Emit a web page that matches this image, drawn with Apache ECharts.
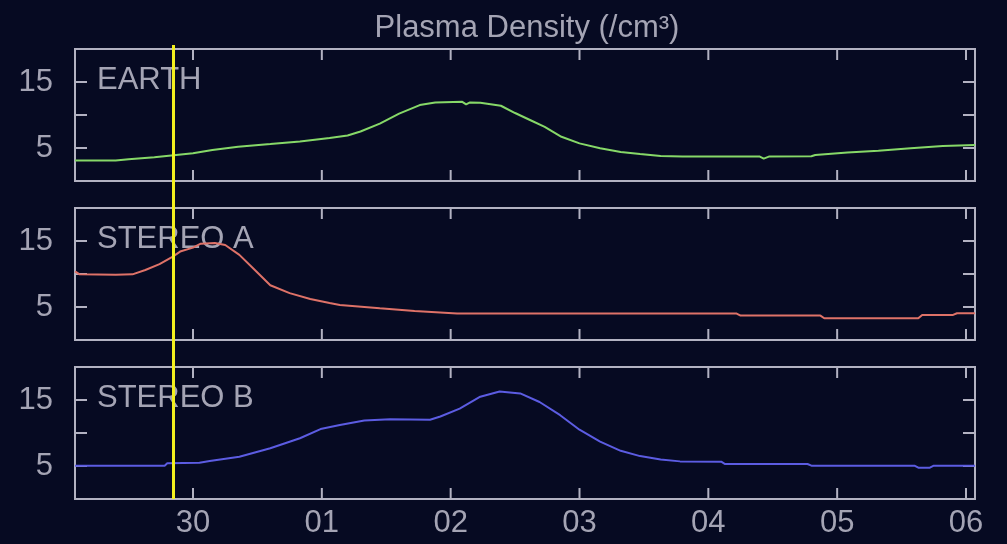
<!DOCTYPE html>
<html>
<head>
<meta charset="utf-8">
<title>Plasma Density</title>
<script src="https://cdn.jsdelivr.net/npm/echarts@6/dist/echarts.min.js"></script>
<style>
  html, body { margin: 0; padding: 0; background: #060a22; }
  #chart { width: 1007px; height: 544px; }
</style>
</head>
<body>
<div id="chart"></div>
<script>
// Time is measured in days from 30 Jun 00:00 UTC; densities in /cm^3.
const xStart = -0.916;
const xEnd = 6.07;
const cursorDay = -0.155;

const panelNames = ['EARTH', 'STEREO A', 'STEREO B'];
const yTickLabels = [5, 15];
const dayTicks = [0, 1, 2, 3, 4, 5, 6];
const dayLabels = ['30', '01', '02', '03', '04', '05', '06'];

const earthT = [-0.916, -0.6, -0.5, -0.3, -0.15, 0, 0.15, 0.35, 0.6, 0.83, 1.06, 1.2, 1.3, 1.45, 1.6, 1.76, 1.88, 2.09, 2.12, 2.15, 2.23, 2.39, 2.5, 2.62, 2.73, 2.86, 3.0, 3.16, 3.32, 3.47, 3.63, 3.8, 4.4, 4.43, 4.47, 4.8, 4.83, 5.08, 5.32, 5.57, 5.82, 6.07];
const earthN = [3.1, 3.1, 3.3, 3.6, 3.9, 4.2, 4.7, 5.2, 5.6, 6.0, 6.5, 6.9, 7.5, 8.7, 10.2, 11.5, 11.9, 12.0, 11.6, 11.9, 11.85, 11.4, 10.3, 9.2, 8.2, 6.7, 5.7, 4.95, 4.4, 4.1, 3.8, 3.7, 3.7, 3.4, 3.7, 3.75, 3.95, 4.3, 4.6, 4.95, 5.3, 5.45];

const stereoAT = [-0.916, -0.88, -0.6, -0.47, -0.37, -0.26, -0.16, -0.1, 0, 0.06, 0.17, 0.25, 0.36, 0.48, 0.6, 0.75, 0.91, 1.06, 1.14, 1.45, 1.72, 2.05, 4.22, 4.25, 4.87, 4.9, 5.63, 5.66, 5.9, 5.93, 6.07];
const stereoAN = [10.4, 9.95, 9.9, 9.95, 10.6, 11.5, 12.6, 13.4, 14.0, 14.6, 14.7, 14.4, 12.9, 10.6, 8.3, 7.1, 6.2, 5.6, 5.3, 4.8, 4.4, 4.0, 4.0, 3.7, 3.7, 3.3, 3.3, 3.8, 3.8, 4.05, 4.05];

const stereoBT = [-0.916, -0.22, -0.2, 0.05, 0.13, 0.36, 0.6, 0.83, 0.99, 1.14, 1.33, 1.53, 1.84, 1.92, 2.07, 2.23, 2.38, 2.54, 2.69, 2.85, 3.0, 3.16, 3.32, 3.47, 3.63, 3.78, 4.1, 4.13, 4.77, 4.8, 5.6, 5.63, 5.72, 5.75, 6.07];
const stereoBN = [5.05, 5.05, 5.4, 5.5, 5.75, 6.4, 7.7, 9.2, 10.6, 11.2, 11.9, 12.1, 12.0, 12.5, 13.7, 15.5, 16.3, 16.0, 14.7, 12.7, 10.5, 8.7, 7.3, 6.5, 6.0, 5.7, 5.65, 5.3, 5.3, 5.05, 5.05, 4.75, 4.75, 5.05, 5.05];

const seriesTimes = [earthT, stereoAT, stereoBT];
const seriesValues = [earthN, stereoAN, stereoBN];
const seriesColors = ['#86d868', '#de7268', '#5c5ce2'];

const BG = '#060a22';
const FRAME = '#b2b2c2';
const TEXT = '#a4a4b4';
const FONT = '"Liberation Sans", Arial, sans-serif';
const FS = 31;
const X_TICK_LEN = 11;
const Y_MIN = 0;
const Y_MAX = 20;

const panelTops = [49, 208, 367];
const panelHeight = 132;
const gridLeft = 75;
const gridRight = 32;

const grids = [];
const xAxes = [];
const yAxes = [];
const series = [];
const graphics = [];

const frameLine = () => ({ show: true, onZero: false, lineStyle: { color: FRAME, width: 2 } });
const innerTick = len => ({ show: true, inside: true, length: len, lineStyle: { color: FRAME, width: 2 } });
const dayLabel = v => {
  const k = Math.round(v);
  return Math.abs(v - k) < 1e-6 && dayLabels[k] !== undefined ? dayLabels[k] : '';
};

// Day tick marks on the top and bottom edges of a panel, placed through the axis scale
const renderDayTicks = (params, api) => {
  const d = api.value(0);
  const top = api.coord([d, Y_MAX]);
  const bot = api.coord([d, Y_MIN]);
  const style = { stroke: FRAME, lineWidth: 2 };
  return {
    type: 'group',
    children: [
      { type: 'line', shape: { x1: top[0], y1: top[1], x2: top[0], y2: top[1] + X_TICK_LEN }, style: style },
      { type: 'line', shape: { x1: bot[0], y1: bot[1], x2: bot[0], y2: bot[1] - X_TICK_LEN }, style: style }
    ]
  };
};

panelTops.forEach((top, i) => {
  grids.push({
    left: gridLeft, right: gridRight, top: top, height: panelHeight,
    show: true, borderColor: FRAME, borderWidth: 2, backgroundColor: 'transparent'
  });
  const baseX = () => ({
    type: 'value', gridIndex: i, min: xStart, max: xEnd,
    minInterval: 1, maxInterval: 1, splitNumber: 7,
    axisLine: frameLine(),
    axisTick: { show: false },
    splitLine: { show: false }
  });
  xAxes.push(Object.assign(baseX(), {
    position: 'bottom',
    axisLabel: {
      show: i === 2, color: TEXT, fontSize: FS, fontFamily: FONT, margin: 9,
      showMinLabel: false, showMaxLabel: false,
      formatter: dayLabel
    }
  }));
  xAxes.push(Object.assign(baseX(), { position: 'top', axisLabel: { show: false } }));

  const baseY = () => ({
    type: 'value', gridIndex: i, min: Y_MIN, max: Y_MAX, interval: 5,
    axisLine: frameLine(),
    axisTick: innerTick(12),
    splitLine: { show: false }
  });
  yAxes.push(Object.assign(baseY(), {
    position: 'left',
    axisLabel: {
      color: TEXT, fontSize: FS, fontFamily: FONT, margin: 22,
      formatter: v => (yTickLabels.indexOf(v) >= 0 ? String(v) : '')
    }
  }));
  yAxes.push(Object.assign(baseY(), { position: 'right', axisLabel: { show: false } }));

  series.push({
    type: 'line',
    xAxisIndex: i * 2, yAxisIndex: i * 2,
    showSymbol: false, symbol: 'none',
    lineStyle: { color: seriesColors[i], width: 2 },
    data: seriesTimes[i].map((d, k) => [d, seriesValues[i][k]])
  });

  series.push({
    type: 'custom',
    xAxisIndex: i * 2, yAxisIndex: i * 2,
    silent: true, z: 4,
    data: dayTicks.map(d => [d, Y_MIN]),
    renderItem: renderDayTicks
  });

  graphics.push({
    type: 'text', x: 97, y: top + 31,
    style: { text: panelNames[i], fill: TEXT, font: FS + 'px ' + FONT, textVerticalAlign: 'middle' }
  });
});

// Overlay grid spanning all three panels for the time cursor
grids.push({ left: gridLeft, right: gridRight, top: 45, height: 454, show: false });
xAxes.push({ type: 'value', gridIndex: 3, min: xStart, max: xEnd, show: false });
yAxes.push({ type: 'value', gridIndex: 3, min: 0, max: 1, show: false });
series.push({
  type: 'line', xAxisIndex: 6, yAxisIndex: 6, data: [], z: 20,
  markLine: {
    silent: true, symbol: 'none',
    label: { show: false },
    lineStyle: { color: '#f2f01e', width: 3, type: 'solid' },
    data: [{ xAxis: cursorDay }]
  }
});

graphics.push({
  type: 'text', x: 527, y: 28,
  style: { text: 'Plasma Density (/cm³)', fill: TEXT, font: FS + 'px ' + FONT, textAlign: 'center', textVerticalAlign: 'middle' }
});

const chart = echarts.init(document.getElementById('chart'));
chart.setOption({
  backgroundColor: BG,
  animation: false,
  grid: grids,
  xAxis: xAxes,
  yAxis: yAxes,
  series: series,
  graphic: graphics
});
</script>
</body>
</html>
